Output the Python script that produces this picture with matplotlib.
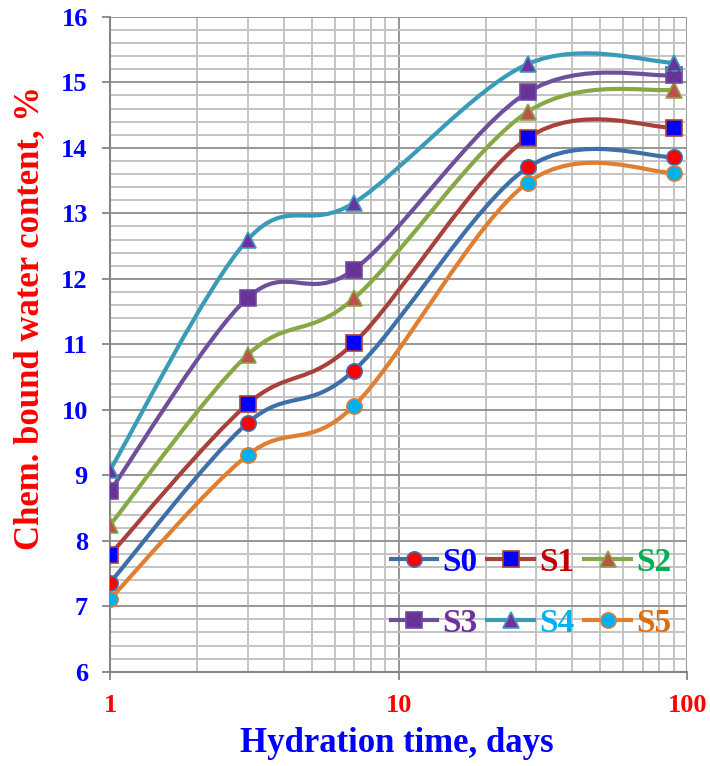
import numpy as np
import matplotlib
matplotlib.use('Agg')
import matplotlib.pyplot as plt
from matplotlib.path import Path
from matplotlib.patches import PathPatch
from matplotlib.lines import Line2D
from matplotlib.legend_handler import HandlerTuple
from matplotlib.ticker import FixedLocator, NullFormatter, MultipleLocator

plt.rcParams['font.family'] = ['Liberation Serif', 'DejaVu Serif']
plt.rcParams['font.weight'] = 'bold'
plt.rcParams['axes.labelweight'] = 'bold'

days = [1, 3, 7, 28, 90]
s0 = [7.36, 9.80, 10.60, 13.70, 13.86]
s1 = [7.79, 10.09, 11.02, 14.15, 14.31]
s2 = [8.24, 10.84, 11.70, 14.55, 14.89]
s3 = [8.76, 11.71, 12.14, 14.85, 15.11]
s4 = [9.08, 12.60, 13.16, 15.28, 15.30]
s5 = [7.11, 9.31, 10.06, 13.47, 13.62]
names = ['S0', 'S1', 'S2', 'S3', 'S4', 'S5']

line_cols = ['#3f6fa8', '#a8403c', '#86a845', '#6e4f9b', '#3a9bb8', '#e07f30']
face_cols = ['#ff0000', '#0000ff', '#c0504d', '#7030a0', '#7030a0', '#00b0f0']
markers = ['o', 's', '^', 's', '^', 'o']
text_cols = ['#0000ff', '#c00000', '#00b050', '#7030a0', '#00b0f0', '#e36c09']


def smooth(xs, ys):
    # excel-like smoothed line: bezier segments in (log x, y)
    p = np.column_stack([np.log10(xs), ys])
    n = len(p)
    verts = [p[0]]
    codes = [Path.MOVETO]
    for i in range(n - 1):
        a = p[i - 1] if i > 0 else p[i]
        d = p[i + 2] if i + 2 < n else p[i + 1]
        verts += [p[i] + (p[i + 1] - a) / 6, p[i + 1] - (d - p[i]) / 6, p[i + 1]]
        codes += [Path.CURVE4] * 3
    verts = np.array(verts)
    verts[:, 0] = 10 ** verts[:, 0]
    return Path(verts, codes)


fig = plt.figure(figsize=(7.1, 7.66), dpi=100)
ax = fig.add_axes([0.155, 0.123, 0.813, 0.855])
ax.set_xscale('log')
ax.set_xlim(1, 100)
ax.set_ylim(6, 16)

ax.yaxis.set_major_locator(MultipleLocator(1))
ax.yaxis.set_minor_locator(MultipleLocator(0.2))
ax.xaxis.set_minor_locator(FixedLocator([2, 3, 4, 5, 6, 7, 8, 9, 20, 30, 40, 50, 60, 70, 80, 90]))
ax.xaxis.set_minor_formatter(NullFormatter())
ax.set_xticks([1, 10, 100])
ax.set_xticklabels(['1', '10', '100'])

ax.grid(which='minor', color='#c4c4c4', lw=1.4)
ax.grid(which='major', color='#969696', lw=1.4)
ax.set_axisbelow(True)
for sp in ['top', 'right']:
    ax.spines[sp].set_visible(False)
for sp in ['left', 'bottom']:
    ax.spines[sp].set_color('#868686')
    ax.spines[sp].set_linewidth(1.5)
ax.tick_params(which='major', length=6, width=1.3, color='#868686', labelsize=19)
ax.tick_params(which='minor', length=0)
ax.tick_params(axis='y', labelcolor='#0000ff', pad=10)
ax.tick_params(axis='x', labelcolor='#ff0000', pad=10)
for lab in ax.get_xticklabels() + ax.get_yticklabels():
    lab.set_fontweight('bold')

handles = []
for i, ys in enumerate([s0, s1, s2, s3, s4, s5]):
    ax.add_patch(PathPatch(smooth(days, ys), fill=False, edgecolor=line_cols[i],
                           lw=3.0, capstyle='round', zorder=3))
    ax.plot(days, ys, ls='none', marker=markers[i], ms=11, mfc=face_cols[i],
            mec=line_cols[i], mew=1.2, zorder=4)
    h = Line2D([], [], color=line_cols[i], lw=3.0, marker=markers[i], ms=11,
               mfc=face_cols[i], mec=line_cols[i], mew=1.2)
    if i == 3:
        ax.plot(days, ys, ls='none', marker='x', ms=8, mec='#5a3a80', mew=1.0, zorder=5)
        h = (h, Line2D([], [], ls='none', marker='x', ms=8, mec='#5a3a80', mew=1.0))
    handles.append(h)

# legend fills by column, so reorder to get S0 S1 S2 / S3 S4 S5
order = [0, 3, 1, 4, 2, 5]
leg = ax.legend([handles[k] for k in order], [names[k] for k in order], ncol=3,
                loc='lower right', bbox_to_anchor=(0.995, 0.03),
                frameon=False, handlelength=1.4, handletextpad=0.15,
                columnspacing=0.3, labelspacing=0.9, borderaxespad=0,
                prop={'weight': 'bold', 'size': 24},
                handler_map={tuple: HandlerTuple(ndivide=1)})
for t, k in zip(leg.get_texts(), order):
    t.set_color(text_cols[k])

ax.set_ylabel('Chem. bound water content, %', color='#ff0000', fontsize=25,
              fontweight='bold')
ax.yaxis.set_label_coords(-0.11, 0.54)
ax.set_xlabel('Hydration time, days', color='#0000ff', fontsize=25,
              fontweight='bold')
ax.xaxis.set_label_coords(0.497, -0.085)

fig.savefig('out.png', dpi=100)
